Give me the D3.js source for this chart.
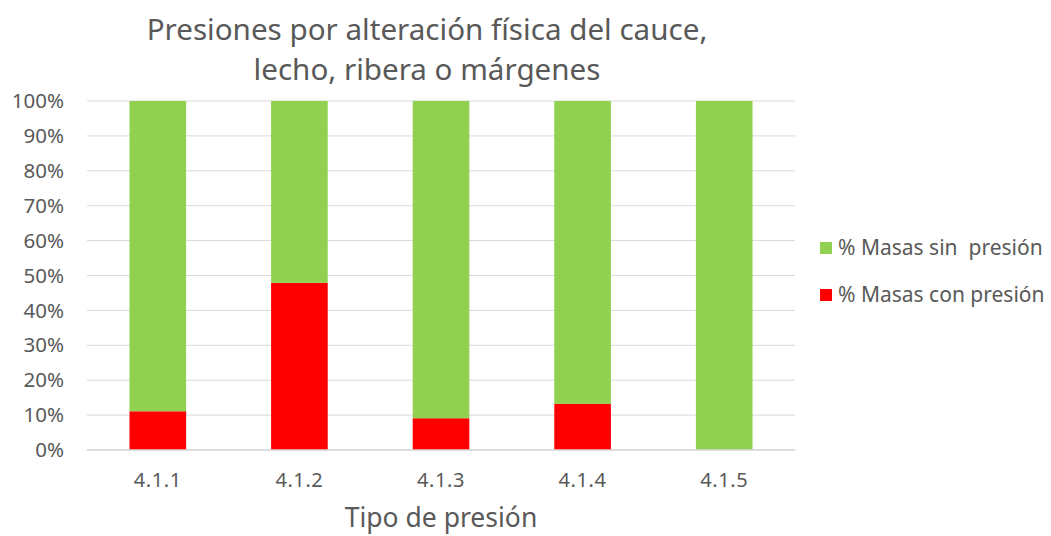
<html>
<head>
<script src="https://d3js.org/d3.v7.min.js"></script>
<style>
body { margin: 0; background: #fff; }
text { font-family: "Noto Sans", sans-serif; fill: #595959; white-space: pre; }
</style>
</head>
<body>
<script>
var categories = ["4.1.1", "4.1.2", "4.1.3", "4.1.4", "4.1.5"];
var conPresion = [11.1, 47.9, 9.1, 13.2, 0];
var sinPresion = [88.9, 52.1, 90.9, 86.8, 100];
var yTicks = [0, 10, 20, 30, 40, 50, 60, 70, 80, 90, 100];
var seriesNames = ["% Masas sin  presión", "% Masas con presión"];
var colors = ["#92d050", "#ff0000"];

var w = 1051, h = 536;
var margin = {top: 101, bottom: 86, left: 87, right: 256};

var svg = d3.select("body").append("svg").attr("width", w).attr("height", h);

var x = d3.scaleBand().domain(categories).range([margin.left, w - margin.right]).paddingInner(0.6).paddingOuter(0.3);
var y = d3.scaleLinear().domain([0, 100]).range([h - margin.bottom, margin.top]);

// gridlines
svg.append("g").selectAll("line").data(yTicks).enter().append("line")
  .attr("x1", margin.left).attr("x2", w - margin.right)
  .attr("y1", function(d){ return y(d); }).attr("y2", function(d){ return y(d); })
  .attr("stroke", "#d9d9d9").attr("stroke-width", 1);

var data = categories.map(function(c, i){ return {cat: c, con: conPresion[i], sin: sinPresion[i]}; });

// red part
svg.append("g").selectAll("rect").data(data).enter().append("rect")
  .attr("x", function(d){ return x(d.cat); }).attr("width", x.bandwidth())
  .attr("y", function(d){ return y(d.con); })
  .attr("height", function(d){ return y(0) - y(d.con); })
  .attr("fill", colors[1]);

// green part
svg.append("g").selectAll("rect").data(data).enter().append("rect")
  .attr("x", function(d){ return x(d.cat); }).attr("width", x.bandwidth())
  .attr("y", function(d){ return y(d.con + d.sin); })
  .attr("height", function(d){ return y(d.con) - y(d.con + d.sin); })
  .attr("fill", colors[0]);

// x axis line
svg.append("line").attr("x1", margin.left).attr("x2", w - margin.right)
  .attr("y1", y(0)).attr("y2", y(0)).attr("stroke", "#d9d9d9").attr("stroke-width", 1.5);

// y tick labels
svg.append("g").selectAll("text").data(yTicks).enter().append("text")
  .attr("x", 64).attr("y", function(d){ return y(d); }).attr("dy", "0.35em")
  .attr("text-anchor", "end").style("font-size", "20.5px")
  .text(function(d){ return d + "%"; });

// x tick labels
svg.append("g").selectAll("text").data(categories).enter().append("text")
  .attr("x", function(d){ return x(d) + x.bandwidth() / 2; }).attr("y", 487)
  .attr("text-anchor", "middle").style("font-size", "20px").style("letter-spacing", "0.6px")
  .text(function(d){ return d; });

// axis title
svg.append("text").attr("x", 441).attr("y", 527).attr("text-anchor", "middle")
  .style("font-size", "26.5px").text("Tipo de presión");

// title
svg.append("text").attr("x", 427).attr("y", 40).attr("text-anchor", "middle")
  .style("font-size", "29.6px").text("Presiones por alteración física del cauce,");
svg.append("text").attr("x", 427).attr("y", 80).attr("text-anchor", "middle")
  .style("font-size", "29.6px").text("lecho, ribera o márgenes");

// legend
var legend = svg.append("g").selectAll("g").data(seriesNames).enter().append("g")
  .attr("transform", function(d, i){ return "translate(820," + (248 + i * 47) + ")"; });
legend.append("rect").attr("x", 0).attr("y", -6).attr("width", 12).attr("height", 12)
  .attr("fill", function(d, i){ return colors[i]; });
legend.append("text").attr("x", 18).attr("y", 0).attr("dy", "0.35em")
  .style("font-size", "21px").text(function(d){ return d; });
</script>
</body>
</html>
